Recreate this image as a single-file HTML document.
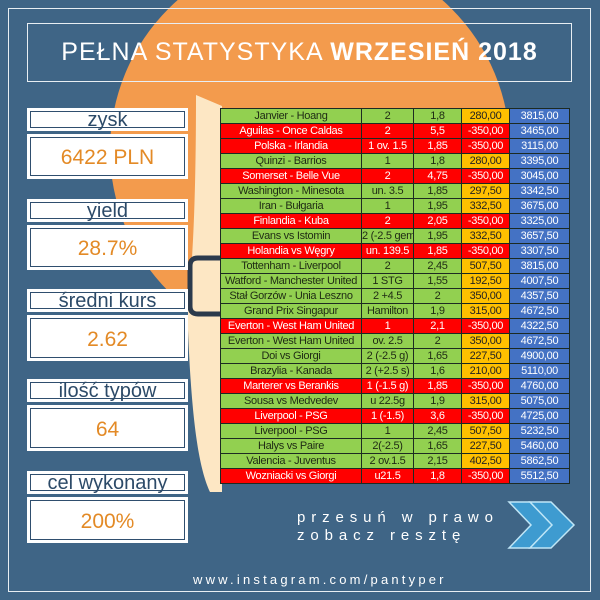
<!DOCTYPE html>
<html><head><meta charset="utf-8">
<style>
*{margin:0;padding:0;box-sizing:border-box}
body{width:600px;height:600px;overflow:hidden;background:#3f6586;font-family:"Liberation Sans",sans-serif;position:relative}
.abs{position:absolute}
.frame{left:8px;top:8px;width:583px;height:584px;border:1.5px solid #e8eef3}
.title{left:27px;top:23px;width:545px;height:59px;border:1.5px solid #e8eef3;color:#fff;font-size:25px;letter-spacing:1px;text-align:center;line-height:57px;white-space:nowrap}
.title b{font-weight:bold}
.box{left:27px;width:161px;background:#fff;padding:3px}
.box>div{width:100%;height:100%;border:1.5px solid #2f4e6e;text-align:center;white-space:nowrap;overflow:visible}
.lab>div{color:#2c4a68;font-size:20px;line-height:17px}
.val>div{color:#e38a26;font-size:21px}
table{position:absolute;left:220px;top:108px;border-collapse:collapse;table-layout:fixed;width:349px;font-family:"Liberation Sans",sans-serif;font-size:11px;letter-spacing:-0.3px}
td{height:15px;border:1px solid #1d2a22;text-align:center;padding:0;white-space:nowrap;overflow:hidden;line-height:13px}
tr.g td{background:#92d050;color:#1e2a14}
tr.r td{background:#ff0000;color:#fff}
tr.g td:nth-child(4){background:#ffc000;color:#222}
td:nth-child(5){background:#4472c4!important;color:#fff!important}
.sw{color:#fff;font-size:15px;letter-spacing:5.9px;white-space:nowrap}
</style></head><body>
<svg class="abs" style="left:0;top:0" width="600" height="600">
<circle cx="310" cy="150" r="200" fill="#f39b4d"/>
<path d="M196,95 L222,106 L222,492 L210,492 C200,470 192,430 188,330 L188,300 C195,250 196,150 196,95 Z" fill="#fde7c4"/>
<path d="M222,258 L198,258 Q190,258 190,266 L190,306 Q190,314 198,314 L222,314" fill="none" stroke="#2b3a4c" stroke-width="5"/>
<g fill="#3e9bd0" stroke="#bfe6f7" stroke-width="1.5">
<polygon points="509,502 530,502 553,525 530,548 509,548 531,525"/>
<polygon points="530,502 551,502 574,525 551,548 530,548 552,525"/>
</g>
</svg>
<div class="abs frame"></div>
<div class="abs title">PEŁNA STATYSTYKA <b>WRZESIEŃ 2018</b></div>

<div class="abs box lab" style="top:108px;height:23px"><div>zysk</div></div>
<div class="abs box val" style="top:134px;height:45px"><div style="line-height:40px">6422 PLN</div></div>
<div class="abs box lab" style="top:199px;height:23px"><div>yield</div></div>
<div class="abs box val" style="top:225px;height:45px"><div style="line-height:40px">28.7%</div></div>
<div class="abs box lab" style="top:289px;height:23px"><div>średni kurs</div></div>
<div class="abs box val" style="top:315px;height:46px"><div style="line-height:41px">2.62</div></div>
<div class="abs box lab" style="top:379px;height:23px"><div>ilość typów</div></div>
<div class="abs box val" style="top:405px;height:46px"><div style="line-height:41px">64</div></div>
<div class="abs box lab" style="top:471px;height:23px"><div>cel wykonany</div></div>
<div class="abs box val" style="top:497px;height:46px"><div style="line-height:41px">200%</div></div>

<table>
<colgroup><col style="width:141px"><col style="width:52px"><col style="width:48px"><col style="width:48px"><col style="width:60px"></colgroup>
<tr class="g"><td>Janvier - Hoang</td><td>2</td><td>1,8</td><td>280,00</td><td>3815,00</td></tr>
<tr class="r"><td>Aguilas - Once Caldas</td><td>2</td><td>5,5</td><td>-350,00</td><td>3465,00</td></tr>
<tr class="r"><td>Polska - Irlandia</td><td>1 ov. 1.5</td><td>1,85</td><td>-350,00</td><td>3115,00</td></tr>
<tr class="g"><td>Quinzi - Barrios</td><td>1</td><td>1,8</td><td>280,00</td><td>3395,00</td></tr>
<tr class="r"><td>Somerset - Belle Vue</td><td>2</td><td>4,75</td><td>-350,00</td><td>3045,00</td></tr>
<tr class="g"><td>Washington - Minesota</td><td>un. 3.5</td><td>1,85</td><td>297,50</td><td>3342,50</td></tr>
<tr class="g"><td>Iran - Bułgaria</td><td>1</td><td>1,95</td><td>332,50</td><td>3675,00</td></tr>
<tr class="r"><td>Finlandia - Kuba</td><td>2</td><td>2,05</td><td>-350,00</td><td>3325,00</td></tr>
<tr class="g"><td>Evans vs Istomin</td><td>2 (-2.5 gema</td><td>1,95</td><td>332,50</td><td>3657,50</td></tr>
<tr class="r"><td>Holandia vs Węgry</td><td>un. 139.5</td><td>1,85</td><td>-350,00</td><td>3307,50</td></tr>
<tr class="g"><td>Tottenham - Liverpool</td><td>2</td><td>2,45</td><td>507,50</td><td>3815,00</td></tr>
<tr class="g"><td>Watford - Manchester United</td><td>1 STG</td><td>1,55</td><td>192,50</td><td>4007,50</td></tr>
<tr class="g"><td>Stał Gorzów - Unia Leszno</td><td>2 +4.5</td><td>2</td><td>350,00</td><td>4357,50</td></tr>
<tr class="g"><td>Grand Prix Singapur</td><td>Hamilton</td><td>1,9</td><td>315,00</td><td>4672,50</td></tr>
<tr class="r"><td>Everton - West Ham United</td><td>1</td><td>2,1</td><td>-350,00</td><td>4322,50</td></tr>
<tr class="g"><td>Everton - West Ham United</td><td>ov. 2.5</td><td>2</td><td>350,00</td><td>4672,50</td></tr>
<tr class="g"><td>Doi vs Giorgi</td><td>2 (-2.5 g)</td><td>1,65</td><td>227,50</td><td>4900,00</td></tr>
<tr class="g"><td>Brazylia - Kanada</td><td>2 (+2.5 s)</td><td>1,6</td><td>210,00</td><td>5110,00</td></tr>
<tr class="r"><td>Marterer vs Berankis</td><td>1 (-1.5 g)</td><td>1,85</td><td>-350,00</td><td>4760,00</td></tr>
<tr class="g"><td>Sousa vs Medvedev</td><td>u 22.5g</td><td>1,9</td><td>315,00</td><td>5075,00</td></tr>
<tr class="r"><td>Liverpool - PSG</td><td>1 (-1.5)</td><td>3,6</td><td>-350,00</td><td>4725,00</td></tr>
<tr class="g"><td>Liverpool - PSG</td><td>1</td><td>2,45</td><td>507,50</td><td>5232,50</td></tr>
<tr class="g"><td>Halys vs Paire</td><td>2(-2.5)</td><td>1,65</td><td>227,50</td><td>5460,00</td></tr>
<tr class="g"><td>Valencia - Juventus</td><td>2 ov.1.5</td><td>2,15</td><td>402,50</td><td>5862,50</td></tr>
<tr class="r"><td>Wozniacki vs Giorgi</td><td>u21.5</td><td>1,8</td><td>-350,00</td><td>5512,50</td></tr>
</table>

<div class="abs sw" style="left:297px;top:509px">przesuń w prawo</div>
<div class="abs sw" style="left:297px;top:527px">zobacz resztę</div>
<div class="abs" style="left:193px;top:572px;color:#fff;font-size:13px;letter-spacing:3.2px;white-space:nowrap">www.instagram.com/pantyper</div>
</body></html>
